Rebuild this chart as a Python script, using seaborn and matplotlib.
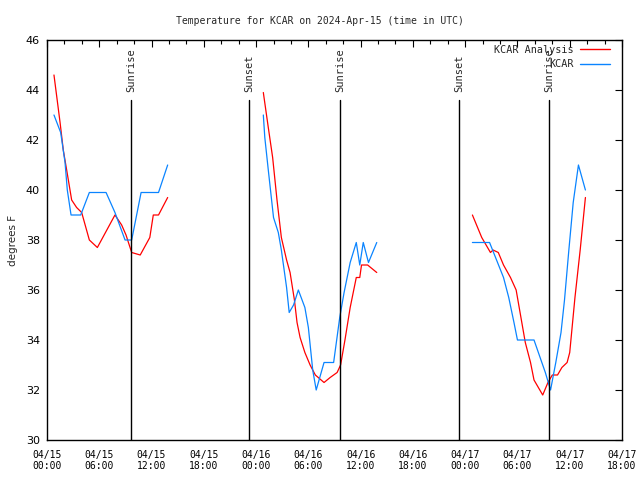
import matplotlib
matplotlib.use("Agg")
import matplotlib.pyplot as plt
import matplotlib.dates as mdates
import seaborn as sns
import pandas as pd
import numpy as np

# ---- data (hours after 2024-04-15 00:00 UTC) ----
analysis_t1 = [0.8, 1.5, 1.87, 2.45, 2.83, 3.4, 3.98, 4.86, 5.78, 7.8, 8.57, 9.07, 9.72, 10.7, 11.8, 12.2, 12.8, 13.85]
analysis_v1 = [44.6, 42.7, 41.6, 40.4, 39.6, 39.3, 39.1, 38.0, 37.7, 39.0, 38.6, 38.2, 37.5, 37.4, 38.1, 39.0, 39.0, 39.7]
analysis_t2 = [24.83, 25.4, 25.9, 26.4, 26.9, 27.5, 27.9, 28.4, 28.7, 29.05, 29.6, 30.2, 30.8, 31.8, 32.5, 33.3, 33.7, 34.2, 34.8, 35.5, 35.9, 36.1, 36.8, 37.85]
analysis_v2 = [43.9, 42.5, 41.3, 39.6, 38.1, 37.2, 36.7, 35.6, 34.7, 34.1, 33.5, 33.0, 32.6, 32.3, 32.5, 32.7, 33.0, 34.0, 35.3, 36.5, 36.5, 37.0, 37.0, 36.7]
analysis_t3 = [48.83, 49.9, 50.9, 51.2, 51.8, 52.4, 53.2, 53.85, 54.3, 54.9, 55.5, 55.9, 56.9, 57.5, 58.0, 58.6, 59.1, 59.7, 60.0, 60.6, 61.2, 61.8]
analysis_v3 = [39.0, 38.1, 37.5, 37.6, 37.5, 37.0, 36.5, 36.0, 35.1, 33.9, 33.1, 32.4, 31.8, 32.3, 32.6, 32.6, 32.9, 33.1, 33.5, 35.7, 37.6, 39.7]

obs_t1 = [0.8, 1.57, 2.07, 2.33, 2.76, 3.87, 4.86, 6.78, 7.8, 8.96, 9.72, 10.8, 12.8, 13.85]
obs_v1 = [43.0, 42.3, 41.1, 40.0, 39.0, 39.0, 39.9, 39.9, 39.1, 38.0, 38.0, 39.9, 39.9, 41.0]
obs_t2 = [24.83, 25.0, 25.4, 26.0, 26.55, 26.9, 27.5, 27.8, 28.3, 28.85, 29.6, 30.0, 30.5, 30.9, 31.8, 32.9, 33.6, 34.1, 34.8, 35.5, 35.9, 36.3, 36.9, 37.85]
obs_v2 = [43.0, 42.1, 40.8, 38.9, 38.3, 37.6, 36.1, 35.1, 35.4, 36.0, 35.3, 34.5, 32.8, 32.0, 33.1, 33.1, 34.9, 35.9, 37.1, 37.9, 37.0, 37.9, 37.1, 37.9]
obs_t3 = [48.83, 50.8, 51.6, 52.4, 53.0, 53.6, 54.0, 55.9, 56.6, 57.2, 57.8, 58.4, 59.0, 59.4, 59.9, 60.4, 61.0, 61.8]
obs_v3 = [37.9, 37.9, 37.2, 36.5, 35.7, 34.7, 34.0, 34.0, 33.3, 32.7, 32.0, 33.1, 34.3, 35.6, 37.6, 39.5, 41.0, 40.0]

event_hours = [9.64, 23.19, 33.63, 47.29, 57.62]
event_labels = ["Sunrise", "Sunset", "Sunrise", "Sunset", "Sunrise"]

series_names = ["KCAR Analysis", "KCAR"]
series_colors = ["#ff0000", "#0a84ff"]

title = "Temperature for KCAR on 2024-Apr-15 (time in UTC)"
ylabel = "degrees F"

start = pd.Timestamp("2024-04-15 00:00")
end = pd.Timestamp("2024-04-17 18:00")

# ---- build table ----
rows = []
for name, segs in [
    (series_names[0], [(analysis_t1, analysis_v1), (analysis_t2, analysis_v2), (analysis_t3, analysis_v3)]),
    (series_names[1], [(obs_t1, obs_v1), (obs_t2, obs_v2), (obs_t3, obs_v3)]),
]:
    for i, (ts, vs) in enumerate(segs):
        for t, v in zip(ts, vs):
            rows.append({"time": start + pd.Timedelta(hours=t), "temp": v,
                         "series": name, "seg": f"{name}-{i}"})
df = pd.DataFrame(rows)

sns.set_theme(style="white")
mono = ["DejaVu Sans Mono"]
plt.rcParams["font.family"] = ["DejaVu Sans"]

fig = plt.figure(figsize=(6.4, 4.8), dpi=100)
ax = fig.add_axes([47 / 640, 40 / 480, 575 / 640, 400 / 480])

sns.lineplot(data=df, x="time", y="temp", hue="series", units="seg",
             estimator=None, hue_order=series_names,
             palette=dict(zip(series_names, series_colors)),
             linewidth=0.9, ax=ax, legend=True, sort=True)

ax.set_xlim(start, end)
ax.set_ylim(30, 46)
ax.set_yticks(np.arange(30, 47, 2))

ax.xaxis.set_major_locator(mdates.HourLocator(byhour=[0, 6, 12, 18]))
ax.xaxis.set_minor_locator(mdates.HourLocator(byhour=range(0, 24, 2)))
ax.xaxis.set_major_formatter(mdates.DateFormatter("%m/%d\n%H:%M"))

ax.tick_params(axis="both", which="both", direction="in", top=True, right=True,
               colors="black")
ax.tick_params(axis="x", which="major", length=5, width=0.8, pad=7, labelsize=7)
ax.tick_params(axis="x", which="minor", length=3, width=0.8)
ax.tick_params(axis="y", which="major", length=5, width=0.8, pad=5, labelsize=8)
for lab in ax.get_xticklabels():
    lab.set_family(mono)
    lab.set_linespacing(1.15)

for sp in ax.spines.values():
    sp.set_color("black")
    sp.set_linewidth(1.0)

ax.set_xlabel("")
ax.set_ylabel(ylabel, fontsize=7.5)
ax.yaxis.set_label_coords(-0.051, 0.5)

# sunrise / sunset markers
for h, lab in zip(event_hours, event_labels):
    x = start + pd.Timedelta(hours=h)
    ax.axvline(x, ymin=0, ymax=0.85, color="black", linewidth=1.0)
    ax.text(x, 0.87, lab, rotation=90, ha="center", va="bottom",
            transform=ax.get_xaxis_transform(), fontsize=7.5, family=mono)

# legend (text to the left of the line sample, right-aligned)
handles, labels = ax.get_legend_handles_labels()
leg = ax.legend(handles, labels, loc="upper right", bbox_to_anchor=(0.979, 0.988),
                frameon=False, markerfirst=False, handlelength=3.0,
                handletextpad=0.6, labelspacing=0.45, borderpad=0, borderaxespad=0,
                prop={"family": mono, "size": 7.3})
for line in leg.get_lines():
    line.set_linewidth(1.0)
for col in leg._legend_handle_box.get_children():
    col.align = "right"

fig.text(0.5, 1 - 20.5 / 480, title, ha="center", va="center", fontsize=7, family=mono)

fig.savefig("out.png", dpi=100)
